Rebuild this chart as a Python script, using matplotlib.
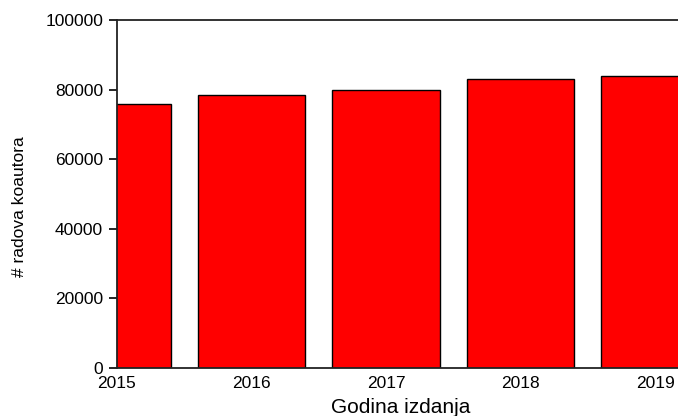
import matplotlib.pyplot as plt

plt.rcParams['font.family'] = ['Liberation Sans', 'DejaVu Sans']

years = [2015, 2016, 2017, 2018, 2019]
counts = [76000, 78500, 80000, 83000, 84000]

fig = plt.figure(figsize=(6.78, 4.16), dpi=100)
ax = fig.add_axes([117 / 678, 1 - 368 / 416, 1 - 117 / 678 + 0.01, (368 - 20) / 416])

ax.bar(years, counts, width=0.8, color='#ff0000', edgecolor='black', linewidth=1.0)

ax.set_xlim(2015, 2019.22)
ax.set_ylim(0, 100000)
ax.set_xticks(years)
ax.set_yticks(range(0, 100001, 20000))

ax.spines['right'].set_visible(False)
for s in ['top', 'left', 'bottom']:
    ax.spines[s].set_linewidth(1.3)
    ax.spines[s].set_color('#222222')

ax.tick_params(axis='x', length=0, pad=6, labelsize=12.5)
ax.tick_params(axis='y', length=6, width=1.2, pad=4, labelsize=12.5)

ax.set_xlabel('Godina izdanja', fontsize=15, labelpad=5)
ax.set_ylabel('# radova koautora', fontsize=12.5)
ax.yaxis.set_label_coords(-0.158, 0.465)

fig.savefig('out.png', dpi=100)
